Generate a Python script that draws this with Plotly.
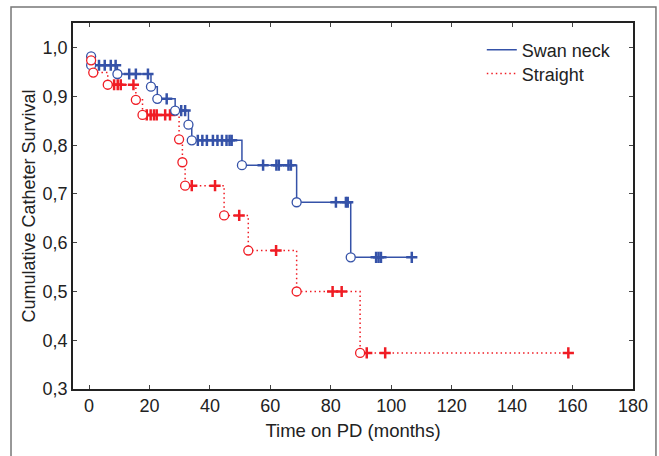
import plotly.graph_objects as go

# ---- data ----
swan_t = [0.7, 0.7, 9.4, 20.5, 22.6, 28.5, 32.9, 34.0, 50.6, 68.7, 86.6]
swan_s = [0.982, 0.964, 0.946, 0.920, 0.895, 0.871, 0.842, 0.810, 0.759, 0.683, 0.570]
swan_end = 106.8
swan_cens_t = [3.3, 5.2, 7.2, 8.8,
               13.3, 15.5, 19.5,
               25.7,
               30.5, 31.8,
               36.0, 37.5, 39.0, 41.0, 42.5, 44.0, 45.5, 46.5, 47.2,
               57.6, 62.0, 62.8, 66.0, 66.8,
               81.7, 85.0, 85.6,
               95.0, 95.8, 96.6, 106.8]
swan_cens_s = [0.964] * 4 + [0.946] * 3 + [0.895] + [0.871] * 2 + [0.810] * 9 + \
              [0.759] * 5 + [0.683] * 3 + [0.570] * 4

str_t = [0.7, 1.4, 6.2, 15.5, 17.7, 29.8, 30.9, 31.8, 44.7, 52.7, 68.7, 89.7]
str_s = [0.974, 0.949, 0.924, 0.893, 0.862, 0.812, 0.765, 0.717, 0.656, 0.584, 0.500, 0.374]
str_end = 158.6
str_cens_t = [8.3, 9.5, 10.5, 14.7,
              19.1, 20.4, 21.5, 22.4, 25.2, 26.8,
              34.0, 41.7,
              49.7,
              61.9,
              80.6, 83.6,
              91.9, 98.0, 158.6]
str_cens_s = [0.924] * 4 + [0.862] * 6 + [0.717] * 2 + [0.656] + [0.584] + \
             [0.500] * 2 + [0.374] * 3

x_ticks = list(range(0, 181, 20))
y_ticks = [0.3, 0.4, 0.5, 0.6, 0.7, 0.8, 0.9, 1.0]

BLUE = "#3552a8"
RED = "#f01c24"
FONT = "Liberation Sans, Arial, sans-serif"

fig = go.Figure()

# step lines
fig.add_trace(go.Scatter(x=swan_t + [swan_end], y=swan_s + [swan_s[-1]],
                         mode="lines", line=dict(color=BLUE, width=1.5, shape="hv"),
                         name="Swan neck", legend="legend"))
fig.add_trace(go.Scatter(x=str_t + [str_end], y=str_s + [str_s[-1]],
                         mode="lines",
                         line=dict(color=RED, width=1.5, shape="hv", dash="1.5px,3px"),
                         name="Straight", legend="legend2"))

# censor marks
fig.add_trace(go.Scatter(x=swan_cens_t, y=swan_cens_s, mode="markers", showlegend=False,
                         marker=dict(symbol="cross-thin", size=8,
                                     line=dict(color=BLUE, width=2.5))))
fig.add_trace(go.Scatter(x=str_cens_t, y=str_cens_s, mode="markers", showlegend=False,
                         marker=dict(symbol="cross-thin", size=8,
                                     line=dict(color=RED, width=2.5))))

# event circles
fig.add_trace(go.Scatter(x=swan_t, y=swan_s, mode="markers", showlegend=False,
                         marker=dict(symbol="circle", size=9, color="white",
                                     line=dict(color=BLUE, width=1.3))))
fig.add_trace(go.Scatter(x=str_t, y=str_s, mode="markers", showlegend=False,
                         marker=dict(symbol="circle", size=9, color="white",
                                     line=dict(color=RED, width=1.3))))

leg_common = dict(xanchor="left", yanchor="middle", bgcolor="rgba(0,0,0,0)",
                  font=dict(size=18, color="#222222"), itemwidth=30)

fig.update_layout(
    width=659, height=456,
    margin=dict(l=73, r=26, t=23, b=67, autoexpand=False),
    paper_bgcolor="white", plot_bgcolor="white",
    font=dict(family=FONT, size=18, color="#222222"),
    separators=",.",
    legend=dict(x=0.730, y=0.926, **leg_common),
    legend2=dict(x=0.730, y=0.861, **leg_common),
    shapes=[dict(type="rect", xref="paper", yref="paper",
                 x0=-0.1107, x1=1.041, y0=-0.2, y1=1.0437,
                 line=dict(color="#777777", width=1.5), layer="below")],
)
fig.update_xaxes(range=[-5.3, 180], tickvals=x_ticks, ticks="inside", ticklen=4,
                 showline=True, linecolor="#222222", linewidth=1.5, mirror="ticks",
                 showgrid=False, zeroline=False, automargin=False,
                 title=dict(text="Time on PD (months)", font=dict(size=18.5), standoff=9))
fig.update_yaxes(range=[0.3, 1.0506], tickvals=y_ticks, tickformat=".1f",
                 ticks="inside", ticklen=4,
                 showline=True, linecolor="#222222", linewidth=1.5, mirror="ticks",
                 showgrid=False, zeroline=False, automargin=False,
                 title=dict(text="Cumulative Catheter Survival", font=dict(size=18), standoff=2))

fig.write_html("out.html", config={"displayModeBar": False},
               post_script="document.body.style.margin='0';document.body.style.overflow='hidden';")
